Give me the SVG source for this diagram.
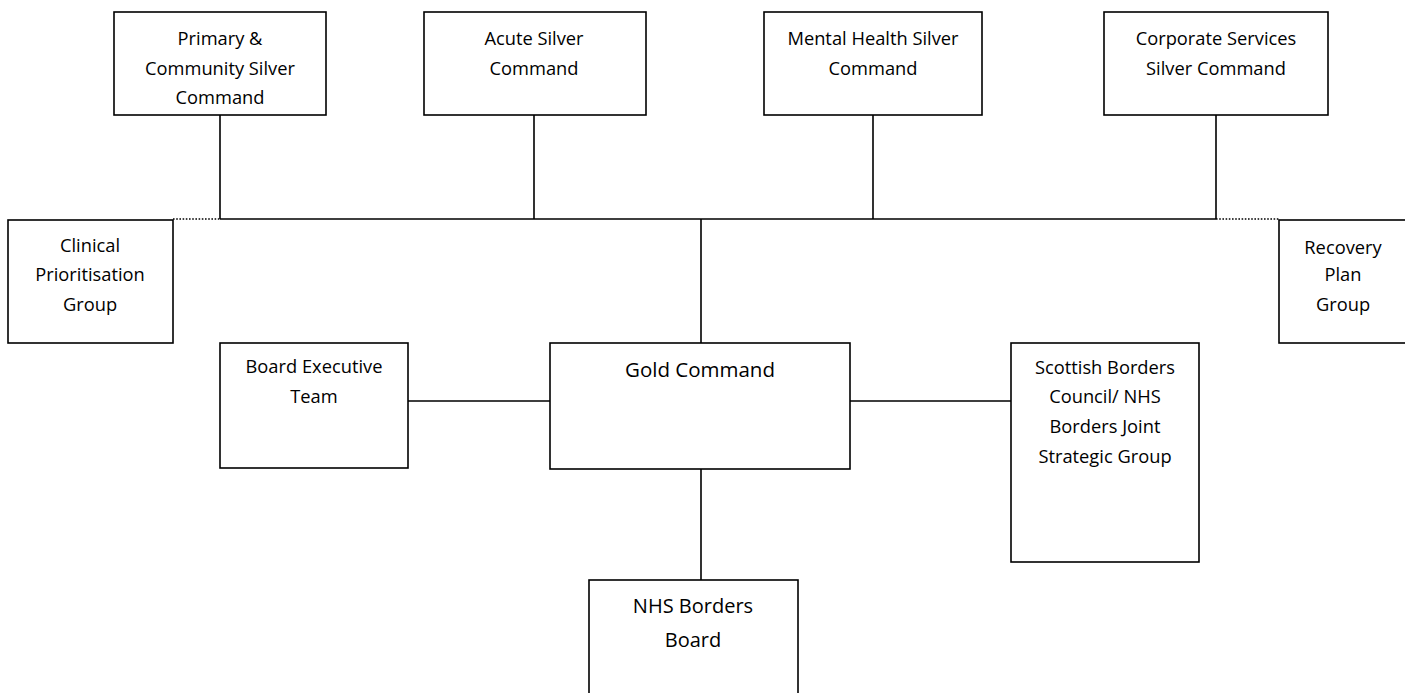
<svg xmlns="http://www.w3.org/2000/svg" width="1405" height="693" viewBox="0 0 1405 693">
<style>
.box{fill:#fff;stroke:#000;stroke-width:1.6}
.ln{fill:none;stroke:#000;stroke-width:1.6}
.dot{fill:none;stroke:#000;stroke-width:1.6;stroke-dasharray:1.6 1.6}
text{font-family:"Open Sans","Liberation Sans",sans-serif;font-size:18.3px;fill:#000;text-anchor:middle}
.big{font-size:20.5px}
.mid{font-size:20px}
</style>
<rect width="1405" height="693" fill="#fff"/>
<g id="connectors">
<path class="ln" d="M220 115V219M534 115V219M873 115V219M1216 115V219M220 219H1216"/>
<path class="dot" d="M173 219H220M1216 219H1279"/>
<path class="ln" d="M701 219V343M701 469V580M408 401H550M850 401H1011"/>
</g>
<g id="n-primary"><rect class="box" x="114" y="12" width="212" height="103"/>
<text x="220" y="45">Primary &amp;</text><text x="220" y="75">Community Silver</text><text x="220" y="104">Command</text></g>
<g id="n-acute"><rect class="box" x="424" y="12" width="222" height="103"/>
<text x="534" y="45">Acute Silver</text><text x="534" y="75">Command</text></g>
<g id="n-mental"><rect class="box" x="764" y="12" width="218" height="103"/>
<text x="873" y="45">Mental Health Silver</text><text x="873" y="75">Command</text></g>
<g id="n-corporate"><rect class="box" x="1104" y="12" width="224" height="103"/>
<text x="1216" y="45">Corporate Services</text><text x="1216" y="75">Silver Command</text></g>
<g id="n-clinical"><rect class="box" x="8" y="220" width="165" height="123"/>
<text x="90" y="252">Clinical</text><text x="90" y="281">Prioritisation</text><text x="90" y="311">Group</text></g>
<g id="n-recovery"><rect class="box" x="1279" y="220" width="130" height="123"/>
<text x="1343" y="254">Recovery</text><text x="1343" y="281">Plan</text><text x="1343" y="311">Group</text></g>
<g id="n-board-exec"><rect class="box" x="220" y="343" width="188" height="125"/>
<text x="314" y="373">Board Executive</text><text x="314" y="403">Team</text></g>
<g id="n-gold"><rect class="box" x="550" y="343" width="300" height="126"/>
<text class="big" x="700" y="377">Gold Command</text></g>
<g id="n-scottish"><rect class="box" x="1011" y="343" width="188" height="219"/>
<text x="1105" y="374">Scottish Borders</text><text x="1105" y="403">Council/ NHS</text><text x="1105" y="433">Borders Joint</text><text x="1105" y="463">Strategic Group</text></g>
<g id="n-nhs-board"><rect class="box" x="589" y="580" width="209" height="120"/>
<text class="mid" x="693" y="613">NHS Borders</text><text class="mid" x="693" y="647">Board</text></g>
</svg>
